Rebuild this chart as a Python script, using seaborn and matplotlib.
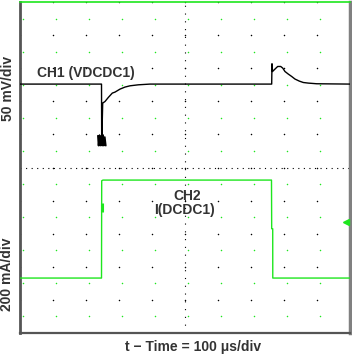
import numpy as np
import pandas as pd
import matplotlib
matplotlib.use("Agg")
import matplotlib.pyplot as plt
import seaborn as sns

# scope settings
ch1_scale = 50.0     # mV/div
ch2_scale = 200.0    # mA/div
ch1_pos = 7.52       # div of CH1 reference level
ch2_pos = 1.66       # div of CH2 reference level

# CH1 (VDCDC1), AC deviation in mV vs time in us
ch1_t = [0, 247.0, 247.6, 250.6, 257.6, 267.6, 279.7, 287.9, 303.0, 318.2, 333.3,
         358.5, 393.9, 762.7, 763.6, 765.2, 775.8, 780.9, 790.0, 796.1, 803.0,
         813.0, 823.3, 833.3, 846.4, 858.5, 873.6, 899.1, 1000]
ch1_mv = [0, 0, -91.7, -28.7, -26.3, -20.2, -13.6, -12.1, -7.6, -4.5, -2.6,
          -1.1, 0, 0, 30.7, 19.0, 24.2, 26.6, 26.6, 24.2, 19.0,
          15.1, 11.5, 7.6, 4.5, 2.4, 1.5, 0.5, 0]
# ringing at the bottom of the undershoot
ring_t = [236, 238, 241, 243, 247, 249, 252, 254, 257, 260]
ring_mv = [-78, -93, -77, -93, -78, -93, -77, -93, -80, -93]

# CH2 I(DCDC1), load current in mA vs time in us
ch2_t = [0, 247.0, 247.6, 251.5, 762.1, 762.7, 765.8, 766.0, 1000]
ch2_ma = [0, 0, 588, 592, 592, 298, 298, 0, 0]

green = "#1ee61e"
txt = "#333333"

sns.set_theme(style="white")
plt.rcParams["font.family"] = ["Liberation Sans", "DejaVu Sans"]

fig = plt.figure(figsize=(3.52, 3.54), dpi=100)
ax = fig.add_axes([20 / 352, 21 / 354, 330 / 352, 331 / 354])

df1 = pd.DataFrame({"t": ch1_t, "v": np.array(ch1_mv) / ch1_scale + ch1_pos})
dfr = pd.DataFrame({"t": ring_t, "v": np.array(ring_mv) / ch1_scale + ch1_pos})
df2 = pd.DataFrame({"t": ch2_t, "v": np.array(ch2_ma) / ch2_scale + ch2_pos})

# graticule
xs = np.arange(0, 1001, 100)
ys = np.arange(0, 10.01, 1)
gx, gy = np.meshgrid(xs, ys)
ax.scatter(gx.ravel(), gy.ravel(), s=1.2, color="black", linewidths=0, zorder=1)
ax.scatter(gx.ravel() + 8, gy.ravel() - 0.5, s=1.2, color=green, linewidths=0, zorder=1)
ax.axhline(5, color="black", lw=0.8, ls=(0, (1, 4)), zorder=1)
ax.axvline(500, color="black", lw=0.8, ls=(0, (1, 6)), zorder=1)

sns.lineplot(data=df2, x="t", y="v", sort=False, estimator=None, color=green, lw=1.0, ax=ax, zorder=3)
sns.lineplot(data=df1, x="t", y="v", sort=False, estimator=None, color="black", lw=1.0, ax=ax, zorder=4)
sns.lineplot(data=dfr, x="t", y="v", sort=False, estimator=None, color="black", lw=1.2, ax=ax, zorder=4)

# channel markers
ax.vlines(247.6, 3.66, 3.93, color=green, lw=2.2, zorder=5)
ax.plot([988], [3.35], marker="<", color=green, ms=5, zorder=5, clip_on=False)

ax.set_xlim(0, 1000)
ax.set_ylim(0, 10)
ax.set_xticks([])
ax.set_yticks([])
ax.set_xlabel("")
ax.set_ylabel("")
for side, col, lw in [("left", "#555555", 2), ("bottom", "#555555", 1.6),
                      ("right", "#808080", 2.5), ("top", green, 1.2)]:
    ax.spines[side].set_visible(True)
    ax.spines[side].set_color(col)
    ax.spines[side].set_linewidth(lw)

fw = dict(fontsize=10, fontweight="bold", color=txt)
ax.text(51.5, 7.85, "CH1 (VDCDC1)", ha="left", va="center", **fw)
ax.text(506, 4.15, "CH2", ha="center", va="center", **fw)
ax.text(499, 3.73, "I(DCDC1)", ha="center", va="center", **fw)

fig.text(8.5 / 352, 1 - 88 / 354, "50 mV/div", rotation=90, ha="center", va="center", **fw)
fig.text(7.5 / 352, 1 - 274 / 354, "200 mA/div", rotation=90, ha="center", va="center", **fw)
fig.text(193 / 352, 1 - 346.5 / 354, "t \u2212 Time = 100 \u03bcs/div", ha="center", va="center", **fw)

fig.savefig("out.png", dpi=100)
